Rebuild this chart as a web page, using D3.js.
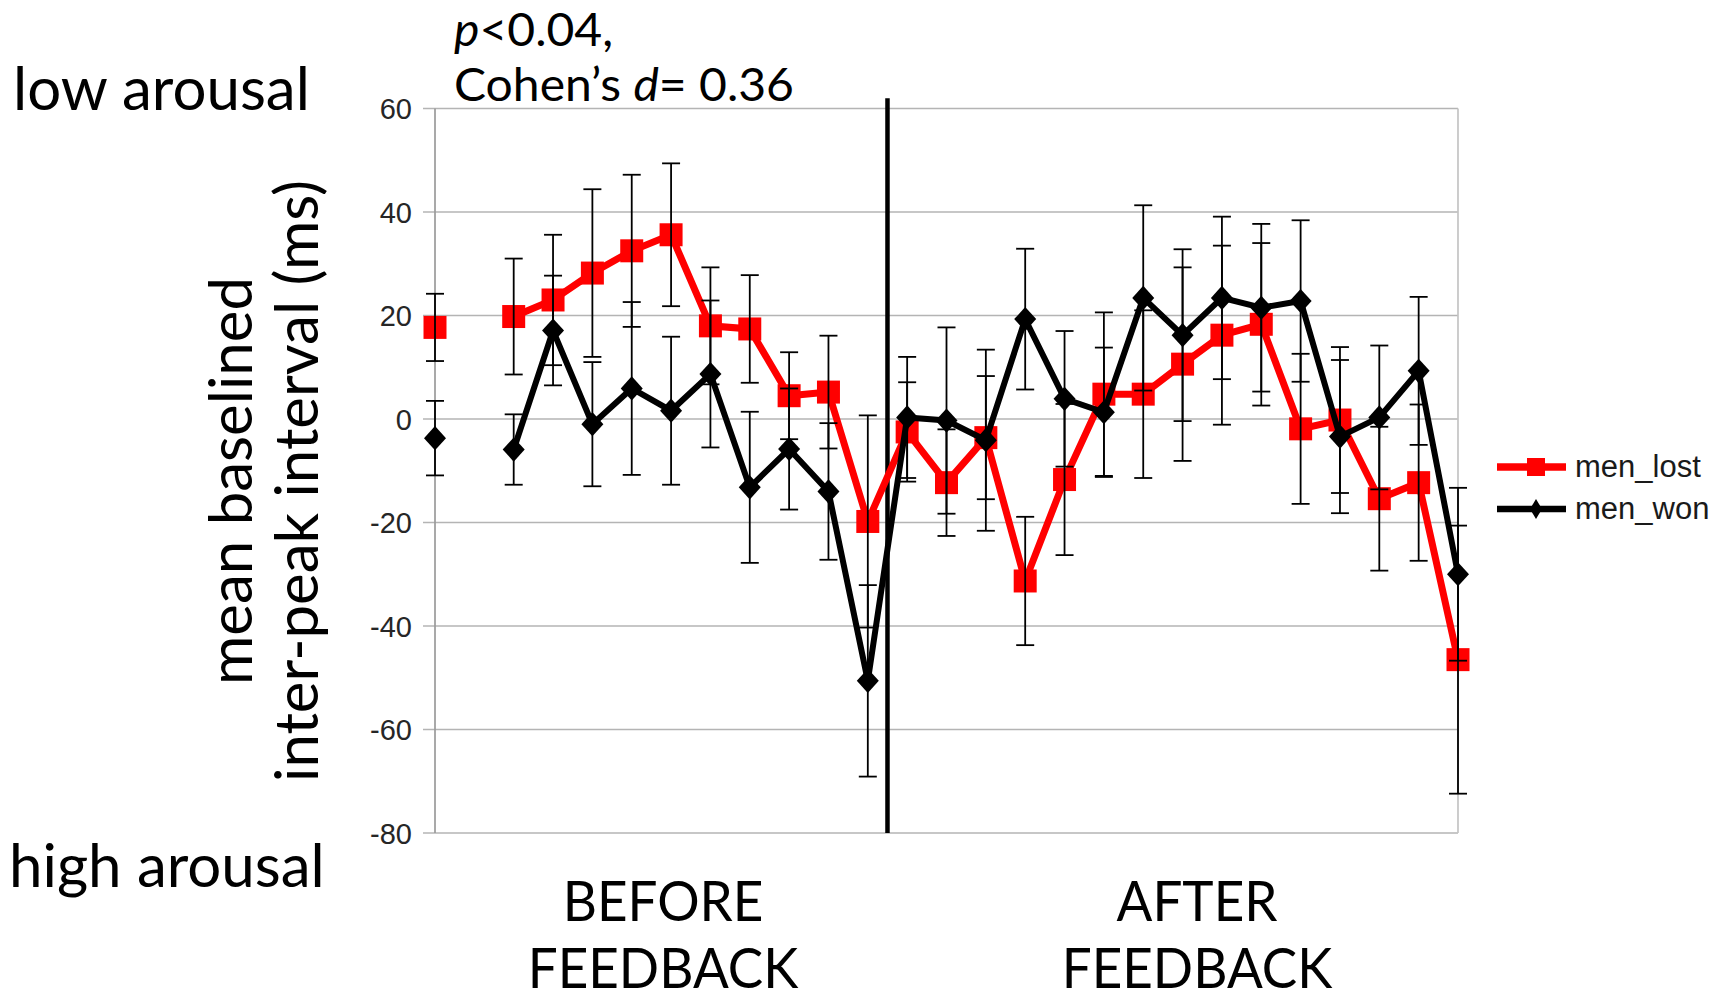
<!DOCTYPE html>
<html>
<head>
<meta charset="utf-8">
<script src="https://cdn.jsdelivr.net/npm/d3@7/dist/d3.min.js"></script>
<style>
  html, body { margin: 0; padding: 0; background: #fff; }
  svg { display: block; }
</style>
</head>
<body>
<svg id="chart" width="1721" height="1000"></svg>
<script>
// Time bins around the feedback moment (bin 2 has no data)
const bins = [1, 2, 3, 4, 5, 6, 7, 8, 9, 10, 11, 12, 13, 14, 15, 16, 17, 18, 19, 20, 21, 22, 23, 24, 25, 26, 27];
const feedbackAfterBin = 12;

// Mean baselined inter-peak interval (ms) and error half-widths
const menLost    = [17.7, null, 19.8, 23.0, 28.2, 32.5, 35.6, 18.0, 17.4, 4.5, 5.2, -19.8, -2.5, -12.3, -3.6, -31.3, -11.7, 4.8, 4.8, 10.6, 16.2, 18.3, -1.9, -0.2, -15.4, -12.3, -46.5];
const menLostErr = [6.5, null, 11.2, 12.6, 16.2, 14.7, 13.8, 11.3, 10.4, 8.4, 10.9, 20.5, 9.6, 10.3, 11.9, 12.4, 14.6, 15.8, 16.2, 18.7, 17.3, 15.7, 14.5, 14.1, 13.9, 15.1, 25.9];
const menWon     = [-3.7, null, -5.9, 17.1, -1.0, 5.9, 1.6, 8.7, -13.2, -5.8, -14.0, -50.6, 0.3, -0.3, -4.1, 19.3, 3.9, 1.3, 23.4, 16.2, 23.4, 21.5, 22.8, -3.4, 0.3, 9.3, -30.0];
const menWonErr  = [7.2, null, 6.8, 10.6, 12.0, 16.7, 14.3, 14.2, 14.6, 11.7, 13.2, 18.5, 11.7, 18.0, 17.5, 13.6, 13.1, 12.5, 17.9, 16.6, 15.7, 16.2, 15.6, 14.8, 13.9, 14.3, 16.7];

const yTicks = [60, 40, 20, 0, -20, -40, -60, -80];
const seriesNames = ["men_lost", "men_won"];
const seriesColors = ["#ff0000", "#000000"];

const svg = d3.select("#chart");

const plot = { left: 435, right: 1458, top: 108.5, bottom: 833 };

const x = d3.scalePoint().domain(bins).range([plot.left, plot.right]);
const y = d3.scaleLinear().domain([-80, 60]).range([plot.bottom, plot.top]);

// Gridlines and tick marks
const grid = svg.append("g");
grid.selectAll("line.grid").data(yTicks).join("line")
  .attr("x1", plot.left - 12).attr("x2", plot.right)
  .attr("y1", d => y(d)).attr("y2", d => y(d))
  .attr("stroke", "#b4b4b4").attr("stroke-width", 1.7);

// Left axis and right frame line
grid.append("line")
  .attr("x1", plot.left).attr("x2", plot.left)
  .attr("y1", y(60)).attr("y2", y(-80))
  .attr("stroke", "#9a9a9a").attr("stroke-width", 1.7);
grid.append("line")
  .attr("x1", plot.right).attr("x2", plot.right)
  .attr("y1", y(60)).attr("y2", y(-80))
  .attr("stroke", "#c4c4c4").attr("stroke-width", 1.7);

// Tick labels
svg.append("g").selectAll("text").data(yTicks).join("text")
  .attr("x", plot.left - 23)
  .attr("y", d => y(d) + 10.5)
  .attr("text-anchor", "end")
  .attr("font-family", "Liberation Sans, Arial, sans-serif")
  .attr("font-size", 29)
  .attr("fill", "#262626")
  .text(d => d);

// Feedback divider
const xDiv = (x(feedbackAfterBin) + x(feedbackAfterBin + 1)) / 2;
svg.append("line")
  .attr("x1", xDiv).attr("x2", xDiv)
  .attr("y1", y(62)).attr("y2", y(-80))
  .attr("stroke", "#000").attr("stroke-width", 4.5);

// Series lines and markers
const series = [
  { name: seriesNames[0], values: menLost, err: menLostErr, color: seriesColors[0], marker: "square", width: 7, size: 11.5 },
  { name: seriesNames[1], values: menWon, err: menWonErr, color: seriesColors[1], marker: "diamond", width: 6, size: 11 }
];

const line = d3.line()
  .defined(d => d.v != null)
  .x(d => x(d.bin))
  .y(d => y(d.v));

function markerPath(type, cx, cy, s) {
  if (type === "square") {
    return `M${cx - s},${cy - s}H${cx + s}V${cy + s}H${cx - s}Z`;
  }
  const hw = s, hh = s * 1.1;
  return `M${cx},${cy - hh}L${cx + hw},${cy}L${cx},${cy + hh}L${cx - hw},${cy}Z`;
}

series.forEach(s => {
  const pts = bins.map((b, i) => ({ bin: b, v: s.values[i], e: s.err[i] }));
  const g = svg.append("g");
  g.append("path")
    .datum(pts)
    .attr("d", line)
    .attr("fill", "none")
    .attr("stroke", s.color)
    .attr("stroke-width", s.width)
    .attr("stroke-linejoin", "miter");
  g.selectAll("path.marker").data(pts.filter(d => d.v != null)).join("path")
    .attr("class", "marker")
    .attr("d", d => markerPath(s.marker, x(d.bin), y(d.v), s.size))
    .attr("fill", s.color);
  s.pts = pts;
});

// Error bars on top of the markers
const capHalf = 9;
series.forEach(s => {
  const eb = svg.append("g").attr("stroke", "#000").attr("stroke-width", 1.8);
  const data = s.pts.filter(d => d.v != null);
  eb.selectAll("line.stem").data(data).join("line")
    .attr("x1", d => x(d.bin)).attr("x2", d => x(d.bin))
    .attr("y1", d => y(d.v + d.e)).attr("y2", d => y(d.v - d.e));
  eb.selectAll("line.top").data(data).join("line")
    .attr("x1", d => x(d.bin) - capHalf).attr("x2", d => x(d.bin) + capHalf)
    .attr("y1", d => y(d.v + d.e)).attr("y2", d => y(d.v + d.e));
  eb.selectAll("line.bot").data(data).join("line")
    .attr("x1", d => x(d.bin) - capHalf).attr("x2", d => x(d.bin) + capHalf)
    .attr("y1", d => y(d.v - d.e)).attr("y2", d => y(d.v - d.e));
});

// Legend
const legend = svg.append("g");
series.forEach((s, i) => {
  const ly = 467 + i * 42;
  legend.append("line")
    .attr("x1", 1497).attr("x2", 1566)
    .attr("y1", ly).attr("y2", ly)
    .attr("stroke", s.color).attr("stroke-width", s.marker === "square" ? 7.5 : 6.5);
  legend.append("path")
    .attr("d", s.marker === "square"
      ? `M${1527},${ly - 9}H${1545}V${ly + 9}H${1527}Z`
      : `M${1536},${ly - 10}L${1542},${ly}L${1536},${ly + 10}L${1530},${ly}Z`)
    .attr("fill", s.color);
  legend.append("text")
    .attr("x", 1575).attr("y", ly + 10)
    .attr("font-family", "Liberation Sans, Arial, sans-serif")
    .attr("font-size", 31)
    .attr("fill", "#1a1a1a")
    .text(s.name);
});

// Arousal labels
const big = "Lato, 'Open Sans', sans-serif";
svg.append("text").attr("x", 13).attr("y", 110)
  .attr("font-family", big).attr("font-size", 60).text("low arousal");
svg.append("text").attr("x", 9).attr("y", 887)
  .attr("font-family", big).attr("font-size", 60).text("high arousal");

// Test statistics
const stat = svg.append("g")
  .attr("font-family", big).attr("font-size", 46)
  .attr("transform", "translate(454,0) scale(1.045,1)");
const l1 = stat.append("text").attr("x", 0).attr("y", 46);
l1.append("tspan").attr("font-style", "italic").text("p");
l1.append("tspan").text("<0.04,");
const l2 = stat.append("text").attr("x", 0).attr("y", 101.5);
l2.append("tspan").text("Cohen\u2019s ");
l2.append("tspan").attr("font-style", "italic").text("d");
l2.append("tspan").text("= 0.36");

// Y axis title (two lines)
const yTitle = svg.append("g").attr("font-family", big).attr("font-size", 60).attr("text-anchor", "middle");
yTitle.append("text").attr("transform", "translate(252,481) rotate(-90)").text("mean baselined");
yTitle.append("text").attr("transform", "translate(318,481) rotate(-90)").text("inter-peak interval (ms)");

// Phase labels (narrow set)
const phase = svg.append("g").attr("font-family", big).attr("font-size", 57).attr("text-anchor", "middle");
const phaseLabels = [
  { cx: 663, lines: ["BEFORE", "FEEDBACK"] },
  { cx: 1197, lines: ["AFTER", "FEEDBACK"] }
];
phaseLabels.forEach(p => {
  p.lines.forEach((t, j) => {
    phase.append("text")
      .attr("transform", `translate(${p.cx},${j === 0 ? 921 : 988}) scale(0.93,1)`)
      .text(t);
  });
});
</script>
</body>
</html>
